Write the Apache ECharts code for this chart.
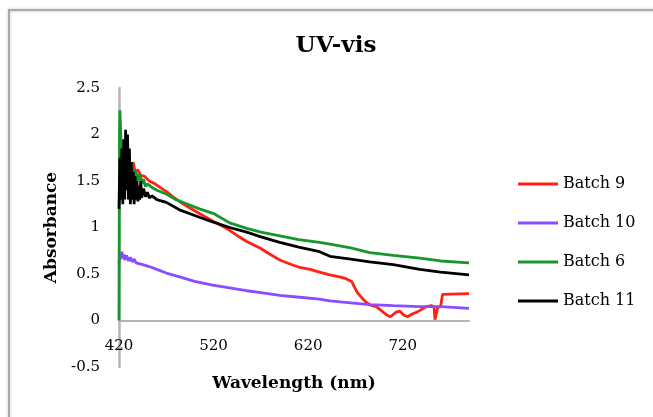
<!DOCTYPE html>
<html>
<head>
<meta charset="utf-8">
<script src="https://cdn.jsdelivr.net/npm/echarts@6/dist/echarts.min.js"></script>
<style>
  html, body { margin: 0; padding: 0; background: #fff; }
  #chart { width: 653px; height: 417px; }
</style>
</head>
<body>
<div id="chart"></div>
<script>
const serif = '"DejaVu Serif", serif';

const seriesNames = ['Batch 9', 'Batch 10', 'Batch 6', 'Batch 11'];
const seriesColors = ['#ff2214', '#8a4cff', '#18962e', '#000000'];
const xTicks = [420, 520, 620, 720];

// [wavelength nm, absorbance]
const batch9 = [
    [421, 1.55], [423, 1.7], [425, 1.6], [427, 1.75], [429, 1.62], [431, 1.72], [433, 1.65],
    [435, 1.7], [437, 1.6], [440, 1.62], [443, 1.56], [447, 1.55], [452, 1.5], [458, 1.47],
    [465, 1.42], [471, 1.38], [477, 1.33], [484, 1.28], [495, 1.21], [505, 1.15], [519, 1.07],
    [530, 1.01], [537, 0.97], [547, 0.9], [555, 0.85], [569, 0.78], [580, 0.71], [590, 0.65],
    [600, 0.61], [611, 0.57], [622, 0.55], [632, 0.52], [643, 0.49], [653, 0.47], [660, 0.45],
    [666, 0.42], [669, 0.36], [672, 0.3], [677, 0.24], [682, 0.19], [687, 0.16], [692, 0.15],
    [698, 0.1], [703, 0.06], [707, 0.04], [709, 0.05], [713, 0.09], [717, 0.1], [721, 0.06],
    [725, 0.04], [730, 0.07], [735, 0.09], [740, 0.12], [745, 0.15], [750, 0.16], [753, 0.15],
    [754, 0.01], [755, 0.0], [756, 0.02], [757, 0.14], [760, 0.15], [762, 0.28], [764, 0.29],
    [790, 0.29]
];
const batch10 = [
    [420, 0.62], [421, 0.72], [422, 0.66], [423, 0.74], [424, 0.67], [425, 0.71], [426, 0.65],
    [428, 0.7], [430, 0.64], [432, 0.68], [434, 0.63], [436, 0.66], [438, 0.62], [440, 0.63],
    [445, 0.6], [452, 0.58], [460, 0.55], [470, 0.51], [484, 0.47], [500, 0.42], [519, 0.38],
    [537, 0.35], [555, 0.32], [570, 0.3], [590, 0.27], [611, 0.25], [632, 0.23], [643, 0.21],
    [665, 0.19], [685, 0.17], [710, 0.16], [738, 0.15], [760, 0.15], [790, 0.13]
];
const batch6 = [
    [420, 0], [420.5, 2.0], [421, 2.26], [422, 1.95], [423, 1.6], [424, 1.75], [425, 1.5],
    [426, 1.85], [427, 1.55], [428, 1.7], [429, 1.45], [430, 1.75], [431, 1.5], [432, 1.65],
    [433, 1.45], [434, 1.7], [435, 1.5], [436, 1.62], [437, 1.48], [438, 1.6], [440, 1.5],
    [442, 1.58], [444, 1.47], [446, 1.52], [448, 1.44], [450, 1.47], [455, 1.43], [460, 1.4],
    [470, 1.36], [480, 1.3], [490, 1.26], [505, 1.2], [520, 1.15], [537, 1.05], [555, 0.99],
    [570, 0.95], [590, 0.91], [610, 0.87], [632, 0.84], [643, 0.82], [665, 0.78], [685, 0.73],
    [710, 0.7], [738, 0.67], [760, 0.64], [790, 0.62]
];
const batch11 = [
    [420, 1.2], [421, 1.75], [422, 1.3], [423, 1.85], [424, 1.25], [425, 1.95], [426, 1.3],
    [427, 2.05], [428, 1.4], [429, 2.0], [430, 1.3], [431, 1.85], [432, 1.25], [433, 1.7],
    [434, 1.3], [435, 1.6], [436, 1.25], [437, 1.55], [438, 1.3], [439, 1.5], [440, 1.28],
    [441, 1.45], [442, 1.3], [443, 1.5], [444, 1.32], [446, 1.42], [448, 1.33], [450, 1.38],
    [452, 1.32], [455, 1.34], [460, 1.3], [470, 1.27], [484, 1.19], [505, 1.11], [519, 1.06],
    [537, 1.0], [555, 0.95], [570, 0.9], [590, 0.84], [610, 0.79], [632, 0.74], [643, 0.69],
    [665, 0.66], [685, 0.63], [710, 0.6], [738, 0.55], [760, 0.52], [790, 0.49]
];

const seriesData = [batch9, batch10, batch6, batch11];

const chart = echarts.init(document.getElementById('chart'), null, {renderer: 'canvas'});

chart.setOption({
    animation: false,
    backgroundColor: '#fff',
    graphic: [{
        type: 'rect',
        shape: {x: 9, y: 10, width: 700, height: 500},
        style: {fill: 'none', stroke: '#a9a9a9', lineWidth: 2, shadowBlur: 3, shadowColor: 'rgba(0,0,0,0.25)'},
        z: -1
    }],
    title: {
        text: 'UV-vis',
        left: 331,
        top: 30,
        textAlign: 'center',
        textStyle: {fontFamily: serif, fontWeight: 'bold', fontSize: 23, color: '#000'}
    },
    legend: {
        orient: 'vertical',
        left: 513,
        top: 171,
        icon: 'rect',
        itemWidth: 40,
        itemHeight: 3,
        itemGap: 23,
        textStyle: {fontFamily: serif, fontSize: 16, color: '#000'},
        data: seriesNames
    },
    grid: {left: 119, top: 88, width: 350, height: 279, outerBoundsMode: 'none'},
    xAxis: {
        type: 'value',
        min: 420,
        max: 790,
        name: 'Wavelength (nm)',
        nameLocation: 'middle',
        // labels and name sit near the zero line, above the grid bottom
        nameGap: 8,
        nameTextStyle: {fontFamily: serif, fontWeight: 'bold', fontSize: 17, color: '#000'},
        axisLine: {onZero: true, lineStyle: {color: '#b5b5b5', width: 2}},
        axisTick: {show: false},
        splitLine: {show: false},
        axisLabel: {
            customValues: xTicks,
            margin: -28,
            fontFamily: serif,
            fontSize: 15,
            color: '#000'
        }
    },
    yAxis: {
        type: 'value',
        min: -0.5,
        max: 2.5,
        interval: 0.5,
        name: 'Absorbance',
        nameLocation: 'middle',
        nameGap: 58,
        nameTextStyle: {fontFamily: serif, fontWeight: 'bold', fontSize: 17, color: '#000'},
        axisLine: {show: true, onZero: false, lineStyle: {color: '#b5b5b5', width: 2.5}},
        axisTick: {show: false},
        splitLine: {show: false},
        axisLabel: {margin: 19, fontFamily: serif, fontSize: 15, color: '#000'}
    },
    series: seriesNames.map((name, i) => ({
        name: name,
        type: 'line',
        data: seriesData[i],
        symbol: 'none',
        color: seriesColors[i],
        lineStyle: {width: 2.8, color: seriesColors[i]},
        z: 2 + i
    }))
});
</script>
</body>
</html>
